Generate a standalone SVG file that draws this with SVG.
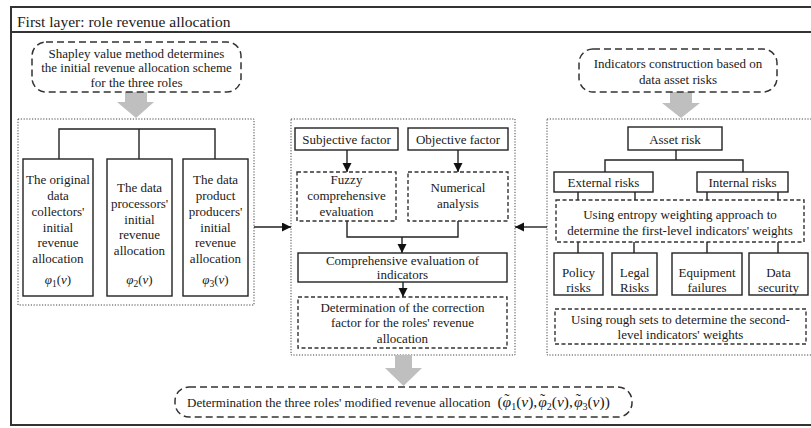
<svg xmlns="http://www.w3.org/2000/svg" width="811" height="428" viewBox="0 0 811 428">
<defs>
<style>
text{font-size:13px;fill:#1a1a1a;text-anchor:middle}
.title{font-size:15.5px;text-anchor:start}
.lft{text-anchor:start}
.box{fill:#fff;stroke:#222;stroke-width:1.4}
.dash{fill:#fff;stroke:#333;stroke-width:1.4;stroke-dasharray:4,2.5}
.rdash{fill:#fff;stroke:#333;stroke-width:1.5;stroke-dasharray:7,4}
.dot{fill:none;stroke:#444;stroke-width:1;stroke-dasharray:1.2,1.6}
.ln{fill:none;stroke:#222;stroke-width:1.4}
.big{fill:#bfbfbf;stroke:none}
.it{font-style:italic}
.m{font-size:15.5px}
.s{font-size:10px}
</style>
<marker id="ah" markerUnits="userSpaceOnUse" markerWidth="10" markerHeight="10" refX="9" refY="4.5" orient="auto"><path d="M0,0 L9,4.5 L0,9 Z" fill="#111"/></marker>
</defs>
<rect x="0" y="0" width="811" height="428" fill="#fff"/>
<g font-family="'Liberation Serif', 'DejaVu Serif', 'Times New Roman', serif">
<g id="frame">
<rect x="11" y="7" width="820" height="418" fill="none" stroke="#333" stroke-width="2"/>
<line x1="11" y1="32" x2="811" y2="32" stroke="#333" stroke-width="2"/>
<text class="title" x="17" y="26.5">First layer: role revenue allocation</text>
</g>
<g id="containers">
<rect class="dot" x="18" y="119" width="236" height="186"/>
<rect class="dot" x="291" y="119" width="224" height="236"/>
<rect class="dot" x="547" y="119" width="280" height="236"/>
</g>
<g id="connectors">
<path class="big" d="M125,92 H147 V102 H154 L136,118 L117,102 H125 Z"/>
<path class="big" d="M670,92 H692 V103 H700 L681,118 L662,103 H670 Z"/>
<path class="big" d="M395,355 H412 V368 H422 L403.5,386 L385,368 H395 Z"/>
<path class="ln" d="M59,159 V129 H215 V159 M139,129 V159"/>
<line class="ln" x1="254" y1="227" x2="291" y2="227" marker-end="url(#ah)"/>
<line class="ln" x1="547" y1="227" x2="515" y2="227" marker-end="url(#ah)"/>
<line class="ln" x1="347" y1="150" x2="347" y2="172" marker-end="url(#ah)"/>
<line class="ln" x1="458" y1="150" x2="458" y2="172" marker-end="url(#ah)"/>
<path class="ln" d="M347,221 V237 H458 V221"/>
<line class="ln" x1="402" y1="237" x2="402" y2="253" marker-end="url(#ah)"/>
<line class="ln" x1="403" y1="282" x2="403" y2="297" marker-end="url(#ah)"/>
<path class="ln" d="M676,150 V160 M605,172 V160 H743 V172"/>
<path class="ln" d="M578,192 V200 M635,192 V200 M707,192 V200 M778,192 V200"/>
<path class="ln" d="M578,242 V253 M634,242 V253 M707,242 V253 M778,242 V253"/>
</g>
<g id="shapley">
<rect class="rdash" x="32" y="42" width="209" height="50" rx="14"/>
<text x="136.5" y="57.5">Shapley value method determines</text>
<text x="136.5" y="72">the initial revenue allocation scheme</text>
<text x="136.5" y="86.5">for the three roles</text>
</g>
<g id="role1">
<rect class="box" x="23" y="159" width="70" height="137"/>
<text x="58" y="184">The original</text>
<text x="58" y="200">data</text>
<text x="58" y="216">collectors'</text>
<text x="58" y="231.5">initial</text>
<text x="58" y="247">revenue</text>
<text x="58" y="263">allocation</text>
<text x="58" y="284" font-size="14"><tspan class="it">φ</tspan><tspan font-size="9.5" dy="3">1</tspan><tspan dy="-3">(</tspan><tspan class="it">v</tspan>)</text>
</g>
<g id="role2">
<rect class="box" x="107" y="159" width="65" height="137"/>
<text x="139.5" y="192">The data</text>
<text x="139.5" y="208">processors'</text>
<text x="139.5" y="223.5">initial</text>
<text x="139.5" y="239">revenue</text>
<text x="139.5" y="255">allocation</text>
<text x="139.5" y="284" font-size="14"><tspan class="it">φ</tspan><tspan font-size="9.5" dy="3">2</tspan><tspan dy="-3">(</tspan><tspan class="it">v</tspan>)</text>
</g>
<g id="role3">
<rect class="box" x="183" y="159" width="65" height="137"/>
<text x="215.5" y="184">The data</text>
<text x="215.5" y="200">product</text>
<text x="215.5" y="216">producers'</text>
<text x="215.5" y="231.5">initial</text>
<text x="215.5" y="247">revenue</text>
<text x="215.5" y="263">allocation</text>
<text x="215.5" y="284" font-size="14"><tspan class="it">φ</tspan><tspan font-size="9.5" dy="3">3</tspan><tspan dy="-3">(</tspan><tspan class="it">v</tspan>)</text>
</g>
<g id="subjective">
<rect class="box" x="295" y="128" width="103" height="22"/>
<text x="346.5" y="143.5">Subjective factor</text>
</g>
<g id="objective">
<rect class="box" x="408" y="128" width="100" height="22"/>
<text x="458" y="143.5">Objective factor</text>
</g>
<g id="fuzzy">
<rect class="dash" x="297" y="172" width="99" height="49"/>
<text x="346.5" y="184">Fuzzy</text>
<text x="346.5" y="200">comprehensive</text>
<text x="346.5" y="216">evaluation</text>
</g>
<g id="numerical">
<rect class="dash" x="408" y="172" width="100" height="49"/>
<text x="458" y="192">Numerical</text>
<text x="458" y="208">analysis</text>
</g>
<g id="comprehensive">
<rect class="box" x="298" y="253" width="209" height="29"/>
<text x="402.5" y="264.5">Comprehensive evaluation of</text>
<text x="402.5" y="279">indicators</text>
</g>
<g id="correction">
<rect class="dash" x="298" y="297" width="209" height="51"/>
<text x="402.5" y="311.5">Determination of the correction</text>
<text x="402.5" y="327">factor for the roles' revenue</text>
<text x="402.5" y="342.5">allocation</text>
</g>
<g id="indicators">
<rect class="rdash" x="579" y="49" width="198" height="43" rx="14"/>
<text x="678" y="67.5">Indicators construction based on</text>
<text x="678" y="84">data asset risks</text>
</g>
<g id="asset">
<rect class="box" x="628" y="127" width="94" height="23"/>
<text x="675" y="143.5">Asset risk</text>
</g>
<g id="external">
<rect class="box" x="554" y="172" width="99" height="20"/>
<text x="603.5" y="186.5">External risks</text>
</g>
<g id="internal">
<rect class="box" x="697" y="172" width="91" height="20"/>
<text x="742.5" y="186.5">Internal risks</text>
</g>
<g id="entropy">
<rect class="dash" x="556" y="200" width="248" height="42"/>
<text x="680" y="218.5">Using entropy weighting approach to</text>
<text x="680" y="234.5">determine the first-level indicators' weights</text>
</g>
<g id="policy">
<rect class="box" x="554" y="253" width="49" height="42"/>
<text x="578.5" y="276.5">Policy</text>
<text x="578.5" y="291.5">risks</text>
</g>
<g id="legal">
<rect class="box" x="612" y="253" width="45" height="42"/>
<text x="634.5" y="276.5">Legal</text>
<text x="634.5" y="291.5">Risks</text>
</g>
<g id="equipment">
<rect class="box" x="672" y="253" width="70" height="42"/>
<text x="707" y="276.5">Equipment</text>
<text x="707" y="291.5">failures</text>
</g>
<g id="datasec">
<rect class="box" x="749" y="253" width="59" height="42"/>
<text x="778.5" y="276.5">Data</text>
<text x="778.5" y="291.5">security</text>
</g>
<g id="rough">
<rect class="dash" x="555" y="309" width="251" height="35"/>
<text x="680.5" y="323.5">Using rough sets to determine the second-</text>
<text x="680.5" y="338.5">level indicators' weights</text>
</g>
<g id="final">
<rect class="rdash" x="175" y="387" width="457" height="30" rx="14"/>
<text class="lft" x="187" y="406.5" font-size="13.8">Determination the three roles' modified revenue allocation<tspan class="m" dx="7">(</tspan><tspan class="it m">φ</tspan><tspan class="m" dx="-6.8" dy="-2.5">˜</tspan><tspan class="s" dx="1.6" dy="5.5">1</tspan><tspan class="m" dy="-3">(</tspan><tspan class="it m">v</tspan><tspan class="m">),</tspan><tspan class="it m" dx="1">φ</tspan><tspan class="m" dx="-6.8" dy="-2.5">˜</tspan><tspan class="s" dx="1.6" dy="5.5">2</tspan><tspan class="m" dy="-3">(</tspan><tspan class="it m">v</tspan><tspan class="m">),</tspan><tspan class="it m" dx="1">φ</tspan><tspan class="m" dx="-6.8" dy="-2.5">˜</tspan><tspan class="s" dx="1.6" dy="5.5">3</tspan><tspan class="m" dy="-3">(</tspan><tspan class="it m">v</tspan><tspan class="m">))</tspan></text>
</g>
</g>
</svg>
